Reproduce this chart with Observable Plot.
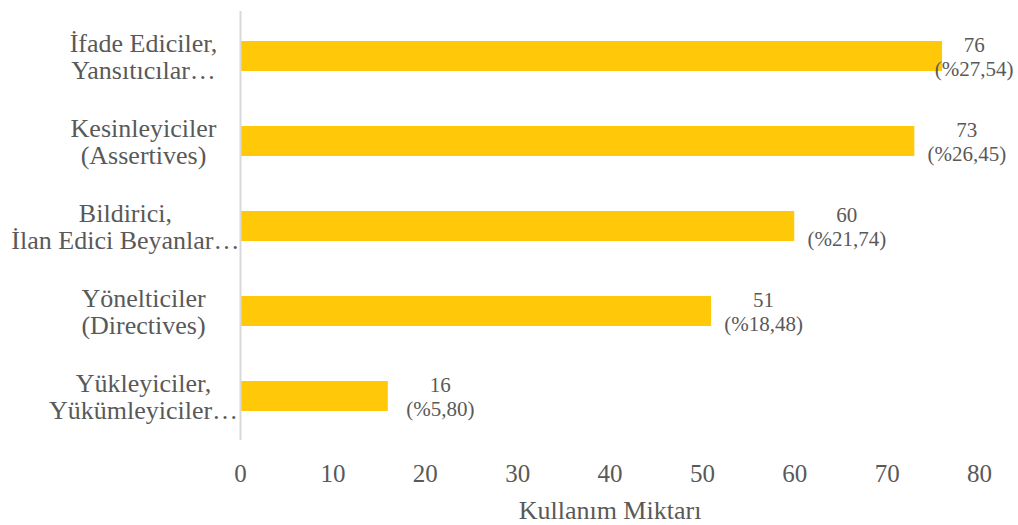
<!DOCTYPE html>
<html>
<head>
<meta charset="utf-8">
<script src="https://cdn.jsdelivr.net/npm/d3@7"></script>
<script src="https://cdn.jsdelivr.net/npm/@observablehq/plot@0.6"></script>
<style>
  html, body { margin: 0; padding: 0; background: #fff; }
</style>
</head>
<body>
<div id="chart"></div>
<script>
const categories = [
  "İfade Ediciler,\nYansıtıcılar…",
  "Kesinleyiciler\n(Assertives)",
  "Bildirici,\nİlan Edici Beyanlar…",
  "Yönelticiler\n(Directives)",
  "Yükleyiciler,\nYükümleyiciler…"
];
const counts = [76, 73, 60, 51, 16];
const percents = ["%27,54", "%26,45", "%21,74", "%18,48", "%5,80"];
const xTicks = [0, 10, 20, 30, 40, 50, 60, 70, 80];
const xTitle = "Kullanım Miktarı";

const font = "'Liberation Serif', 'Times New Roman', serif";
const textColor = "#595959";
const W = 1018, H = 525;
const mL = 240, mR = 39, mT = 11, mB = 85;
const catFont = 26, valFont = 21, tickFont = 25;

const data = categories.map((c, i) => ({cat: c, n: counts[i], lab: counts[i] + "\n(" + percents[i] + ")"}));

const ctx = document.createElement("canvas").getContext("2d");
function textW(s, size) { ctx.font = size + "px " + font; return ctx.measureText(s).width; }

const xPix = v => mL + (v - xTicks[0]) / (xTicks[xTicks.length - 1] - xTicks[0]) * (W - mL - mR);

// category labels: centered lines in a box left of the axis, shifted left if too wide
const catMarks = data.map(d => {
  const maxW = Math.max(...d.cat.split("\n").map(s => textW(s, catFont)));
  const center = Math.max(97, maxW / 2 + 1);
  return Plot.text([d], {
    y: "cat", text: "cat", frameAnchor: "left", textAnchor: "middle",
    dx: -center, fontSize: catFont, fill: textColor, lineHeight: 1.05
  });
});

// value labels: beside bar end, kept inside the page
const valMarks = data.map(d => {
  const maxW = Math.max(...d.lab.split("\n").map(s => textW(s, valFont)));
  const dx = Math.min(52, (W - 5 - maxW / 2) - xPix(d.n));
  return Plot.text([d], {
    x: "n", y: "cat", text: "lab", textAnchor: "middle", dx,
    fontSize: valFont, fill: textColor, lineHeight: 1.15
  });
});

const chart = Plot.plot({
  width: W, height: H,
  marginLeft: mL, marginRight: mR, marginTop: mT, marginBottom: mB,
  style: {fontFamily: font, color: textColor, background: "#fff"},
  x: {domain: [xTicks[0], xTicks[xTicks.length - 1]]},
  y: {domain: categories, paddingInner: 0.65, paddingOuter: 0.325, axis: null},
  marks: [
    Plot.barX(data, {x: "n", y: "cat", fill: "#FFC90A"}),
    Plot.ruleX([0], {stroke: "#D9D9D9", strokeWidth: 2}),
    Plot.axisX({ticks: xTicks, tickSize: 0, tickPadding: 24, fontSize: tickFont, fill: textColor, label: null, tickFormat: d => String(d)}),
    Plot.text([xTitle], {frameAnchor: "bottom", dy: 70, text: d => d, fontSize: 26, fill: textColor, lineAnchor: "middle"}),
    ...catMarks,
    ...valMarks
  ]
});
document.getElementById("chart").appendChild(chart);
</script>
</body>
</html>
